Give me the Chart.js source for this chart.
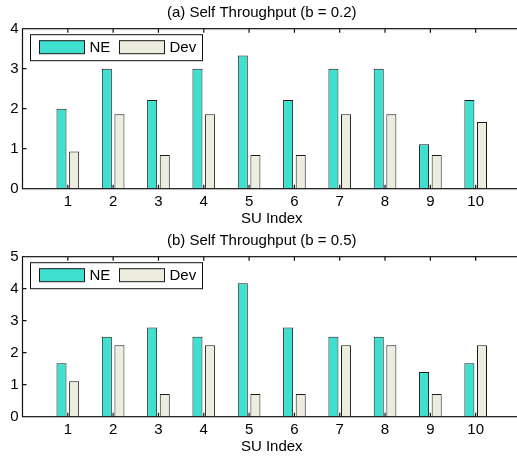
<!DOCTYPE html>
<html lang="en">
<head>
    <meta charset="UTF-8">
    <title>Self Throughput</title>
    <script src="https://cdn.jsdelivr.net/npm/chart.js@4.4.1/dist/chart.umd.min.js"></script>
    <style>
        body { margin: 0; background: #fff; }
        #wrap { position: relative; width: 517px; height: 458px; overflow: hidden; }
        #wrap canvas { position: absolute; left: 0; }
    </style>
</head>
<body>
    <div id="wrap">
        <canvas id="chartA" width="525" height="228" style="top:0"></canvas>
        <canvas id="chartB" width="525" height="228" style="top:228px"></canvas>
    </div>

    <script>
        // SU indices on the x axis
        const suIndex = ['1', '2', '3', '4', '5', '6', '7', '8', '9', '10'];

        // (a) b = 0.2
        const neA  = [2.0, 3.0, 2.22, 3.0, 3.33, 2.22, 3.0, 3.0, 1.11, 2.22];
        const devA = [0.93, 1.86, 0.84, 1.86, 0.84, 0.84, 1.86, 1.86, 0.84, 1.67];
        const yTicksA = [0, 1, 2, 3, 4];

        // (b) b = 0.5
        const neB  = [1.67, 2.5, 2.79, 2.5, 4.17, 2.79, 2.5, 2.5, 1.4, 1.67];
        const devB = [1.11, 2.23, 0.71, 2.23, 0.71, 0.71, 2.23, 2.23, 0.71, 2.23];
        const yTicksB = [0, 1, 2, 3, 4, 5];

        const NE_COLOR = '#40E0D0';
        const DEV_COLOR = '#ECECDF';
        const EDGE = '#1a1a1a';
        const FONT = 'Liberation Sans, Arial, Helvetica, sans-serif';
        const FSIZE = 15;

        // axis runs from 0 to 11 like the original, so pad both ends
        const labels = [''].concat(suIndex, ['']);
        const pad = arr => [null].concat(arr, [null]);

        // box frame with inward ticks on all four sides
        const framePlugin = {
            id: 'frame',
            afterDatasetsDraw(chart) {
                const ctx = chart.ctx;
                const a = chart.chartArea;
                const xs = chart.scales.x, ys = chart.scales.y;
                const len = 4;
                ctx.save();
                ctx.strokeStyle = '#111';
                ctx.lineWidth = 1.2;
                ctx.beginPath();
                for (let i = 1; i <= suIndex.length; i++) {
                    const x = xs.getPixelForValue(i);
                    ctx.moveTo(x, a.top); ctx.lineTo(x, a.top + len);
                    ctx.moveTo(x, a.bottom); ctx.lineTo(x, a.bottom - len);
                }
                ys.ticks.forEach(t => {
                    if (t.value === ys.min || t.value === ys.max) return;
                    const y = ys.getPixelForValue(t.value);
                    ctx.moveTo(a.left, y); ctx.lineTo(a.left + len, y);
                    ctx.moveTo(a.right, y); ctx.lineTo(a.right - len, y);
                });
                ctx.stroke();
                ctx.strokeRect(a.left, a.top, a.right - a.left, a.bottom - a.top);
                ctx.restore();
            }
        };

        // MATLAB style legend box in the upper left corner
        const legendPlugin = {
            id: 'boxLegend',
            afterDraw(chart) {
                const ctx = chart.ctx;
                const a = chart.chartArea;
                const x0 = a.left + 8, y0 = a.top + 6;
                ctx.save();
                ctx.fillStyle = '#fff';
                ctx.fillRect(x0, y0, 172, 26);
                ctx.strokeStyle = '#111';
                ctx.lineWidth = 1;
                ctx.strokeRect(x0, y0, 172, 26);
                ctx.font = FSIZE + 'px ' + FONT;
                ctx.textBaseline = 'middle';
                let px = x0 + 9;
                chart.data.datasets.forEach(ds => {
                    ctx.fillStyle = ds.backgroundColor;
                    ctx.fillRect(px, y0 + 6, 45, 13);
                    ctx.strokeStyle = EDGE;
                    ctx.strokeRect(px, y0 + 6, 45, 13);
                    ctx.fillStyle = '#000';
                    ctx.fillText(ds.label, px + 50, y0 + 13.5);
                    px += 80;
                });
                ctx.restore();
            }
        };

        function makeChart(id, title, ne, dev, yTicks) {
            const ctx = document.getElementById(id).getContext('2d');
            return new Chart(ctx, {
                type: 'bar',
                data: {
                    labels: labels,
                    datasets: [
                        { label: 'NE', data: pad(ne), backgroundColor: NE_COLOR, borderColor: EDGE, borderWidth: 1 },
                        { label: 'Dev', data: pad(dev), backgroundColor: DEV_COLOR, borderColor: EDGE, borderWidth: 1 }
                    ]
                },
                options: {
                    responsive: false,
                    animation: false,
                    devicePixelRatio: 1,
                    categoryPercentage: 0.557,
                    barPercentage: 0.794,
                    layout: { padding: { left: 0, right: 1.5, top: 0, bottom: 0 } },
                    plugins: {
                        legend: { display: false },
                        tooltip: { enabled: false },
                        title: {
                            display: true,
                            text: title,
                            color: '#000',
                            font: { family: FONT, size: FSIZE, weight: 'normal' },
                            padding: { top: 3.5, bottom: 7.2 }
                        }
                    },
                    scales: {
                        x: {
                            type: 'category',
                            offset: false,
                            grid: { display: false, drawTicks: false },
                            border: { display: false },
                            ticks: { autoSkip: false, maxRotation: 0, padding: 4, color: '#000',
                                     font: { family: FONT, size: FSIZE } },
                            title: { display: true, text: 'SU Index', color: '#000',
                                     padding: { top: -1.5, bottom: 0 },
                                     font: { family: FONT, size: FSIZE } },
                            afterFit: s => { s.height = 39.3; }
                        },
                        y: {
                            min: yTicks[0],
                            max: yTicks[yTicks.length - 1],
                            grid: { display: false, drawTicks: false },
                            border: { display: false },
                            afterBuildTicks: s => { s.ticks = yTicks.map(v => ({ value: v })); },
                            ticks: { padding: 4, color: '#000', font: { family: FONT, size: FSIZE } },
                            afterFit: s => { s.width = 22.5; }
                        }
                    }
                },
                plugins: [framePlugin, legendPlugin]
            });
        }

        makeChart('chartA', '(a) Self Throughput (b = 0.2)', neA, devA, yTicksA);
        makeChart('chartB', '(b) Self Throughput (b = 0.5)', neB, devB, yTicksB);
    </script>
</body>
</html>
